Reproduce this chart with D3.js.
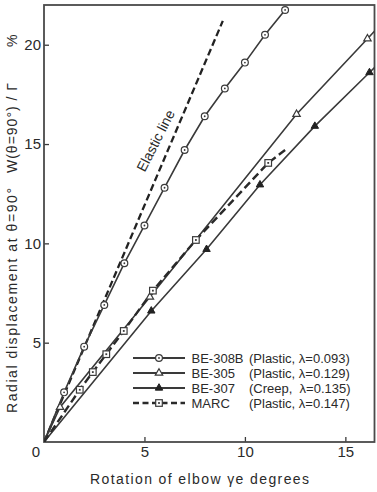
<!DOCTYPE html>
<html>
<head>
<meta charset="utf-8">
<script src="https://cdn.jsdelivr.net/npm/d3@7"></script>
<style>
  body { margin: 0; background: #fff; }
  text { font-family: "Liberation Sans", Arial, sans-serif; fill: #2a2a2a; }
</style>
</head>
<body>
<script>
// measured points (x = rotation in degrees, y = displacement %)
const be308B = [[1,2.5],[2,4.8],[3,6.9],[4,9.0],[5,10.9],[6,12.8],[7,14.7],[8,16.4],[9,17.8],[10,19.1],[11,20.5],[12,21.75]];
const be305 = [[0.8,1.75],[5.27,7.3],[12.57,16.5],[16.1,20.3]];
const be307 = [[5.34,6.6],[8.09,9.7],[10.75,12.95],[13.48,15.9],[16.2,18.6]];
const marc = [[1.78,2.63],[2.43,3.52],[3.1,4.42],[3.97,5.59],[5.42,7.62],[7.56,10.17],[11.16,14.05]];
// line ends without markers
const be305End = [16.6, 20.85];
const be307End = [16.6, 19.0];
const marcEnd = [12.0, 14.7];
const elastic = [[0,0],[8.9,21.2]];

const xTicks = [5, 10, 15];
const yTicks = [5, 10, 15, 20];

const legendNames = ["BE-308B", "BE-305", "BE-307", "MARC"];
const legendNotes = ["(Plastic, \u03bb=0.093)", "(Plastic, \u03bb=0.129)", "(Creep,  \u03bb=0.135)", "(Plastic, \u03bb=0.147)"];

const W = 377, H = 492;
const ink = "#3a3a3a";

const svg = d3.select("body").append("svg")
  .attr("width", W)
  .attr("height", H);

const x = d3.scaleLinear().domain([0, 16.45]).range([44, 374.5]);
const y = d3.scaleLinear().domain([0, 22]).range([442, 5]);

svg.append("clipPath").attr("id", "plot")
  .append("rect")
    .attr("x", x(0)).attr("y", y(22))
    .attr("width", x(16.45) - x(0)).attr("height", y(0) - y(22));

// axes, ticks point inward
svg.append("g")
  .attr("transform", `translate(0,${y(0)})`)
  .call(d3.axisBottom(x).tickValues(xTicks).tickSizeInner(-5).tickSizeOuter(0).tickPadding(4))
  .call(g => g.select(".domain").remove())
  .call(g => g.selectAll("line").attr("stroke", ink).attr("stroke-width", 1.3))
  .call(g => g.selectAll("text").attr("font-size", 15).attr("fill", "#2a2a2a").style("font-family", "Liberation Sans, Arial, sans-serif"));

svg.append("g")
  .attr("transform", `translate(${x(0)},0)`)
  .call(d3.axisLeft(y).tickValues(yTicks).tickSizeInner(-5).tickSizeOuter(0).tickPadding(3))
  .call(g => g.select(".domain").remove())
  .call(g => g.selectAll("line").attr("stroke", ink).attr("stroke-width", 1.3))
  .call(g => g.selectAll("text").attr("font-size", 15).attr("fill", "#2a2a2a").style("font-family", "Liberation Sans, Arial, sans-serif"));

svg.append("text")
  .attr("x", x(0) - 8).attr("y", y(0) + 15)
  .attr("text-anchor", "middle")
  .attr("font-size", 15)
  .text("0");

// frame
svg.append("rect")
  .attr("x", x(0)).attr("y", y(22))
  .attr("width", x(16.45) - x(0)).attr("height", y(0) - y(22))
  .attr("fill", "none")
  .attr("stroke", "#4a4a4a")
  .attr("stroke-width", 1.8);

const line = d3.line()
  .x(d => x(d[0]))
  .y(d => y(d[1]));

const plot = svg.append("g").attr("clip-path", "url(#plot)");

plot.append("path")
  .attr("d", line(elastic))
  .attr("fill", "none").attr("stroke", "#222")
  .attr("stroke-width", 2.3).attr("stroke-dasharray", "7,3.5");

plot.append("path")
  .attr("d", line([[0,0], ...be308B]))
  .attr("fill", "none").attr("stroke", ink).attr("stroke-width", 1.6);

plot.append("path")
  .attr("d", line([[0,0], ...be305, be305End]))
  .attr("fill", "none").attr("stroke", ink).attr("stroke-width", 1.6);

plot.append("path")
  .attr("d", line([[0,0], ...be307, be307End]))
  .attr("fill", "none").attr("stroke", ink).attr("stroke-width", 1.6);

plot.append("path")
  .attr("d", line([[0,0], ...marc, marcEnd]))
  .attr("fill", "none").attr("stroke", "#2a2a2a")
  .attr("stroke-width", 2.4).attr("stroke-dasharray", "8,4");

// markers
const tri = d3.symbol().type(d3.symbolTriangle).size(24);

function circleMark(g) {
  g.append("circle").attr("r", 3.4).attr("fill", "#fff").attr("stroke", ink).attr("stroke-width", 1.2);
  g.append("circle").attr("r", 0.9).attr("fill", ink);
}
function openTri(g) {
  g.append("path").attr("d", tri()).attr("fill", "#fff").attr("stroke", ink).attr("stroke-width", 1.2);
}
function fillTri(g) {
  g.append("path").attr("d", tri()).attr("fill", "#222").attr("stroke", "#222").attr("stroke-width", 1);
}
function squareMark(g) {
  g.append("rect").attr("x", -3.3).attr("y", -3.3).attr("width", 6.6).attr("height", 6.6)
    .attr("fill", "#fff").attr("stroke", ink).attr("stroke-width", 1.2);
  g.append("rect").attr("x", -0.9).attr("y", -0.9).attr("width", 1.8).attr("height", 1.8).attr("fill", ink);
}
const markFns = [circleMark, openTri, fillTri, squareMark];

[be308B, be305, be307, marc].forEach((pts, i) => {
  svg.append("g").selectAll("g")
    .data(pts)
    .enter()
    .append("g")
      .attr("transform", d => `translate(${x(d[0])},${y(d[1])})`)
      .each(function() { markFns[i](d3.select(this)); });
});

// elastic line label, sits left of the dashed line
svg.append("text")
  .attr("transform", "translate(160,143) rotate(-63)")
  .attr("text-anchor", "middle")
  .attr("font-size", 14)
  .attr("fill", "#222")
  .text("Elastic line");

// legend
const legY = [358, 373, 388, 403];
const leg = svg.append("g");
legY.forEach((ly, i) => {
  leg.append("line")
    .attr("x1", 133).attr("x2", 185).attr("y1", ly).attr("y2", ly)
    .attr("stroke", i === 3 ? "#2a2a2a" : ink)
    .attr("stroke-width", i === 3 ? 2.4 : 1.8)
    .attr("stroke-dasharray", i === 3 ? "6,3.5" : null);
  markFns[i](leg.append("g").attr("transform", `translate(159,${ly})`));
  leg.append("text")
    .attr("x", 191.5).attr("y", ly + 5)
    .attr("font-size", 13)
    .text(legendNames[i]);
  leg.append("text")
    .attr("x", 249).attr("y", ly + 5)
    .attr("font-size", 13)
    .attr("xml:space", "preserve")
    .style("white-space", "pre")
    .text(legendNotes[i]);
});

// axis titles
svg.append("text")
  .attr("x", 90).attr("y", 484)
  .attr("font-size", 14)
  .attr("textLength", 219)
  .attr("lengthAdjust", "spacing")
  .text("Rotation of elbow \u03b3e degrees");

const yTitle = [
  {t: "Radial displacement at \u03b8=90\u00b0", from: 413, len: 225},
  {t: "W(\u03b8=90\u00b0) / \u0393", from: 173, len: 90},
  {t: "%", from: 47, len: 12}
];
yTitle.forEach(p => {
  svg.append("text")
    .attr("transform", `translate(17,${p.from}) rotate(-90)`)
    .attr("font-size", 14)
    .attr("textLength", p.len)
    .attr("lengthAdjust", "spacing")
    .text(p.t);
});
</script>
</body>
</html>
